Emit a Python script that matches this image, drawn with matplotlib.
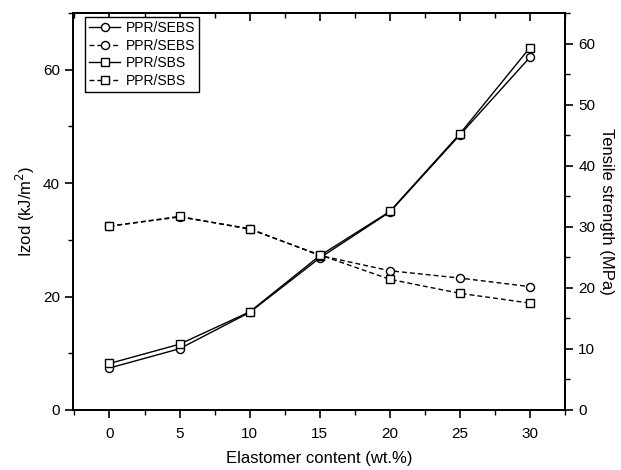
import matplotlib
matplotlib.use("Agg")
import matplotlib.pyplot as plt
from matplotlib.ticker import MultipleLocator

plt.rcParams['font.family'] = ['Liberation Sans', 'DejaVu Sans']

content = [0, 5, 10, 15, 20, 25, 30]

# Izod impact strength (left axis)
izod_sebs = [7.4, 10.8, 17.2, 26.8, 34.9, 48.5, 62.2]
izod_sbs = [8.2, 11.6, 17.3, 27.2, 35.0, 48.7, 63.9]

# tensile strength (right axis)
tens_sebs = [30.1, 31.6, 29.7, 25.3, 22.8, 21.6, 20.2]
tens_sbs = [30.1, 31.7, 29.6, 25.4, 21.4, 19.1, 17.5]

fig = plt.figure(figsize=(6.21, 4.70), dpi=100)
ax = fig.add_axes([0.1176, 0.1277, 0.7922, 0.8446])
ax2 = ax.twinx()

mk = dict(markerfacecolor='white', markeredgecolor='black', markersize=5.8,
          markeredgewidth=1.0, color='black', linewidth=1.0)

l1, = ax.plot(content, izod_sebs, '-', marker='o', label='PPR/SEBS', **mk)
l3, = ax.plot(content, izod_sbs, '-', marker='s', label='PPR/SBS', **mk)
l2, = ax2.plot(content, tens_sebs, '--', marker='o', dashes=(3.5, 2.2), label='PPR/SEBS', **mk)
l4, = ax2.plot(content, tens_sbs, '--', marker='s', dashes=(3.5, 2.2), label='PPR/SBS', **mk)

ax.set_xlim(-2.6, 32.5)
ax.set_ylim(0, 70)
ax2.set_ylim(0, 65)

ax.xaxis.set_major_locator(MultipleLocator(5))
ax.xaxis.set_minor_locator(MultipleLocator(2.5))
ax.yaxis.set_major_locator(MultipleLocator(20))
ax.yaxis.set_minor_locator(MultipleLocator(10))
ax2.yaxis.set_major_locator(MultipleLocator(10))
ax2.yaxis.set_minor_locator(MultipleLocator(5))

ax.tick_params(axis='x', which='major', direction='out', length=6, width=1.2,
               labelsize=11, pad=6.5)
ax.tick_params(axis='x', which='minor', direction='out', length=3.5, width=1.0)
ax.tick_params(axis='y', which='major', direction='out', length=6, width=1.2, labelsize=11)
ax.tick_params(axis='y', which='minor', direction='out', length=3.5, width=1.0)
ax2.tick_params(axis='y', which='major', direction='out', length=6, width=1.2, labelsize=11)
ax2.tick_params(axis='y', which='minor', direction='out', length=3.5, width=1.0)

# inward ticks along the top edge
top = ax.secondary_xaxis('top')
top.xaxis.set_major_locator(MultipleLocator(5))
top.xaxis.set_minor_locator(MultipleLocator(2.5))
top.tick_params(which='major', direction='in', length=6, width=1.2, labeltop=False)
top.tick_params(which='minor', direction='in', length=3.5, width=1.0)
top.spines['top'].set_linewidth(1.3)

for a in (ax, ax2):
    for s in a.spines.values():
        s.set_linewidth(1.3)

ax.set_xlabel('Elastomer content (wt.%)', fontsize=12, labelpad=7)
ax.set_ylabel('Izod (kJ/m$^2$)', fontsize=12)
ax2.set_ylabel('Tensile strength (MPa)', fontsize=12, rotation=270, va='center')
ax2.yaxis.set_label_coords(1.085, 0.5)

leg = ax.legend([l1, l2, l3, l4], ['PPR/SEBS', 'PPR/SEBS', 'PPR/SBS', 'PPR/SBS'],
                loc='upper left', bbox_to_anchor=(0.025, 0.99), fontsize=10,
                frameon=True, fancybox=False, edgecolor='black', framealpha=1,
                handlelength=2.2, handletextpad=0.4, borderpad=0.3, labelspacing=0.25,
                borderaxespad=0)
leg.get_frame().set_linewidth(1.0)

fig.savefig('out.png', dpi=100)
